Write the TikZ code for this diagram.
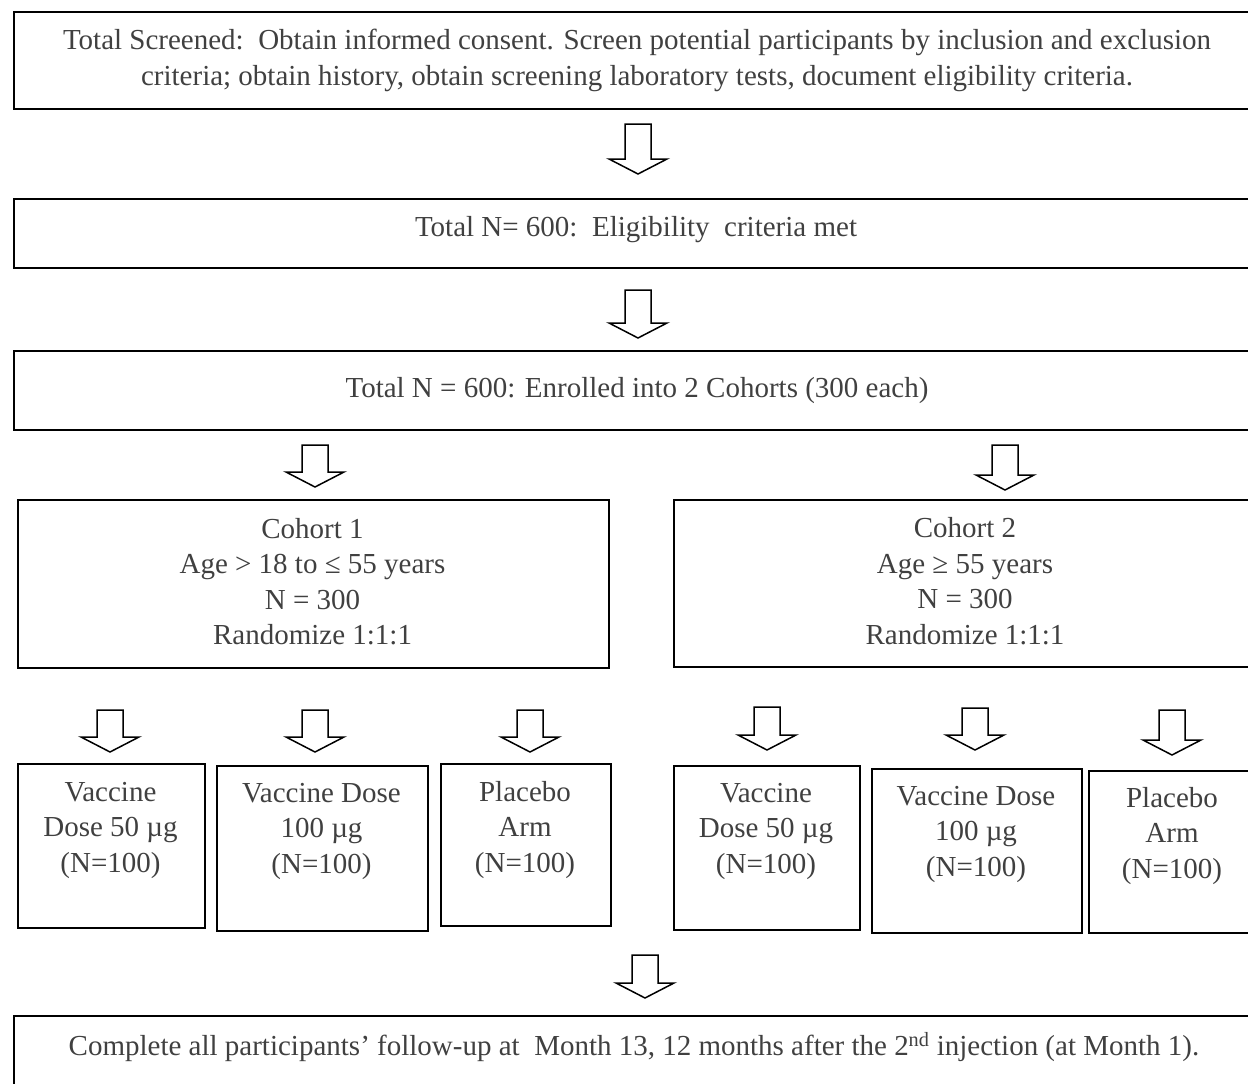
\documentclass[tikz,border=0pt]{standalone}
\usepackage{fontspec}
\setmainfont{Liberation Serif}
\begin{document}
\begin{tikzpicture}[x=1pt,y=-1pt,
  box/.style={draw=black, line width=2pt, inner sep=0pt, text=black!75,
    font=\fontsize{29}{35.5}\selectfont, align=center},
  txt/.style={text=black!75, font=\fontsize{29}{35.5}\selectfont, align=center, inner sep=0pt},
  pics/barrow/.style={code={\draw[line width=1.5pt, fill=white, line join=miter]
    (-13,0) -- (13,0) -- (13,#1-15) -- (29,#1-15) -- (0,#1) -- (-29,#1-15) -- (-13,#1-15) -- cycle;}}
]
\useasboundingbox (0,0) rectangle (1248,1084);
% full width boxes
\node[box, minimum width=1246, minimum height=97, anchor=north west] (screen) at (13,11)
  {Total Screened:\ \ Obtain informed consent. Screen potential participants by inclusion and exclusion\\
   criteria; obtain history, obtain screening laboratory tests, document eligibility\ criteria.};
\node[box, minimum width=1246, minimum height=69, anchor=north west] (elig) at (13,198) {};
\node[txt] (eligt) at (636,230) {Total N= 600:\ \ Eligibility\ \ criteria met};
\node[box, minimum width=1246, minimum height=79, anchor=north west] (enrol) at (13,350)
  {Total N = 600: Enrolled into 2 Cohorts (300 each)};
% cohorts
\node[box, minimum width=591, minimum height=168, anchor=north west] (c1) at (17,499) {};
\node[txt] (c1t) at (312.5,581.5) {Cohort 1\\Age > 18 to ≤ 55 years\\N = 300\\Randomize 1:1:1};
\node[box, minimum width=584, minimum height=167, anchor=north west] (c2) at (673,499) {};
\node[txt] (c2t) at (965,581) {Cohort 2\\Age ≥ 55 years\\N = 300\\Randomize 1:1:1};
% arms
\node[box, minimum width=187, minimum height=164, anchor=north west] (a1) at (17,763) {};
\node[box, minimum width=211, minimum height=165, anchor=north west] (a2) at (216,765) {};
\node[box, minimum width=170, minimum height=162, anchor=north west] (a3) at (440,763) {};
\node[box, minimum width=186, minimum height=164, anchor=north west] (b1) at (673,765) {};
\node[box, minimum width=210, minimum height=164, anchor=north west] (b2) at (871,768) {};
\node[box, minimum width=168, minimum height=162, anchor=north west] (b3) at (1088,770) {};
\node[txt] (a1t) at (110.5,830) {Vaccine\\Dose 50 µg\\(N=100)};
\node[txt] (a2t) at (321.5,831) {Vaccine Dose\\100 µg\\(N=100)};
\node[txt] (a3t) at (525,830) {Placebo\\Arm\\(N=100)};
\node[txt] (b1t) at (766,831) {Vaccine\\Dose 50 µg\\(N=100)};
\node[txt] (b2t) at (976,834) {Vaccine Dose\\100 µg\\(N=100)};
\node[txt] (b3t) at (1172,836) {Placebo\\Arm\\(N=100)};
% final
\node[box, minimum width=1246, minimum height=95, anchor=north west] (final) at (13,1015) {};
\node[txt] (finalt) at (634,1047)
  {Complete all participants’ follow-up at\ \ Month 13, 12 months after the 2\textsuperscript{nd} injection (at Month 1).};
% block arrows
\pic at (638,124) {barrow=50};
\pic at (638,290) {barrow=48};
\pic at (315,445) {barrow=42};
\pic at (1005,445) {barrow=45};
\pic at (110,710) {barrow=42};
\pic at (315,710) {barrow=42};
\pic at (530,710) {barrow=42};
\pic at (767,707) {barrow=43};
\pic at (975,708) {barrow=42};
\pic at (1172,710) {barrow=45};
\pic at (645,955) {barrow=43};
\end{tikzpicture}
\end{document}
